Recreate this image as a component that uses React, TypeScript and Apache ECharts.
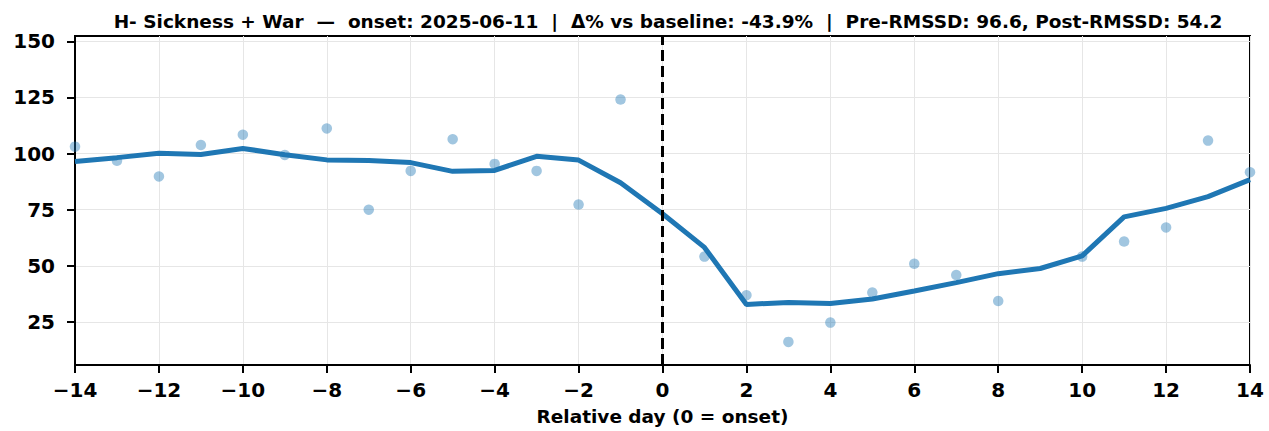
import * as echarts from "echarts";
import { useEffect, useRef } from "react";

const days = [
  -14, -13, -12, -11, -10, -9, -8, -7, -6, -5, -4, -3, -2, -1, 0, 1, 2, 3, 4, 5,
  6, 7, 8, 9, 10, 11, 12, 13, 14,
];

// daily values (no reading on onset day)
const dailyValues: (number | null)[] = [
  103.1, 96.8, 89.8, 103.8, 108.4, 99.4, 111.2, 75.0, 92.3, 106.4, 95.4, 92.3,
  77.3, 124.1, null, 54.1, 36.9, 16.1, 24.7, 38.1, 50.9, 45.9, 34.3, null, 54.1,
  60.8, 67.1, 105.8, 91.7,
];

// rolling mean
const smoothValues = [
  96.5, 98.2, 100.2, 99.6, 102.3, 99.5, 97.2, 96.9, 96.0, 92.1, 92.5, 98.8,
  97.1, 87.0, 73.2, 58.2, 32.8, 33.7, 33.2, 35.2, 38.8, 42.5, 46.5, 48.8, 54.4,
  71.8, 75.6, 80.8, 88.4,
];

const yTicks = [25, 50, 75, 100, 125, 150];

// non-breaking spaces keep the double gaps
const titleText =
  "H- Sickness + War \u00a0\u2014\u00a0 onset: 2025-06-11 \u00a0|\u00a0 \u0394% vs baseline: -43.9% \u00a0|\u00a0 Pre-RMSSD: 96.6, Post-RMSSD: 54.2";

const FONT = "DejaVu Sans";
const BLUE = "#1f77b4";

const getOptions = (): echarts.EChartsOption => {
  const scatterData = days
    .map((d, i) => [d, dailyValues[i]])
    .filter((p) => p[1] !== null);
  const lineData = days.map((d, i) => [d, smoothValues[i]]);

  return {
    animation: false,
    backgroundColor: "#fff",
    title: {
      text: titleText,
      left: 663,
      top: 7,
      textAlign: "center",
      textStyle: {
        fontFamily: FONT,
        fontWeight: "bold",
        fontSize: 18.5,
        color: "#000",
      },
    },
    grid: {
      left: 75,
      right: 19,
      top: 36,
      bottom: 60,
      show: true,
      borderColor: "#000",
      borderWidth: 2,
      backgroundColor: "transparent",
    },
    xAxis: {
      type: "value",
      min: -14,
      max: 14,
      interval: 2,
      name: "Relative day (0 = onset)",
      nameLocation: "middle",
      nameGap: 42,
      nameTextStyle: {
        fontFamily: FONT,
        fontWeight: "bold",
        fontSize: 18.5,
        color: "#000",
      },
      axisLine: { show: true, onZero: false, lineStyle: { color: "#000", width: 2 } },
      axisTick: { show: true, inside: false, length: 8, lineStyle: { color: "#000", width: 2 } },
      axisLabel: {
        margin: 15,
        fontFamily: FONT,
        fontWeight: "bold",
        fontSize: 20,
        color: "#000",
        formatter: (v: number) => String(v).replace("-", "\u2212"),
      },
      splitLine: { show: true, lineStyle: { color: "#e6e6e6", width: 1 } },
    },
    yAxis: {
      type: "value",
      min: 5.8,
      max: 152.4,
      axisLine: { show: true, onZero: false, lineStyle: { color: "#000", width: 2 } },
      axisTick: {
        show: true,
        inside: false,
        length: 8,
        customValues: yTicks,
        lineStyle: { color: "#000", width: 2 },
      },
      axisLabel: {
        margin: 20,
        customValues: yTicks,
        fontFamily: FONT,
        fontWeight: "bold",
        fontSize: 20,
        color: "#000",
      },
      splitLine: { show: true, lineStyle: { color: "#e6e6e6", width: 1 } },
    },
    series: [
      {
        name: "Daily",
        type: "scatter",
        data: scatterData,
        symbolSize: 10.5,
        itemStyle: { color: BLUE, opacity: 0.42 },
        z: 2,
        clip: true,
      },
      {
        name: "Rolling",
        type: "line",
        data: lineData,
        showSymbol: false,
        symbol: "none",
        lineStyle: { color: BLUE, width: 5 },
        z: 3,
        clip: true,
        markLine: {
          silent: true,
          symbol: "none",
          label: { show: false },
          lineStyle: { color: "#000", type: [11, 5], width: 3 },
          data: [{ xAxis: 0 }],
        },
      },
    ],
  };
};

export default function App() {
  const chartRef = useRef<HTMLDivElement | null>(null);

  useEffect(() => {
    document.body.style.margin = "0";
    if (!chartRef.current) return;
    const chart = echarts.init(chartRef.current, undefined, { renderer: "svg" });
    chart.setOption(getOptions());
    return () => {
      chart.dispose();
    };
  }, []);

  return <div ref={chartRef} style={{ width: 1269, height: 431 }} />;
}
